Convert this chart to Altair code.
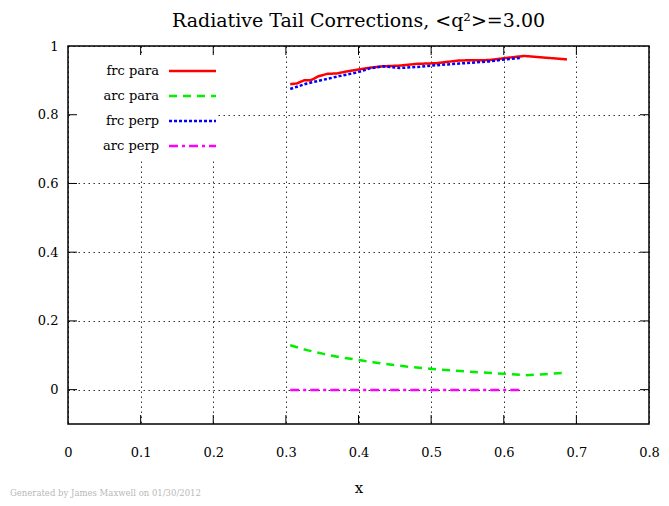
import altair as alt
import pandas as pd

# ---- data ----
frc_para_x = [0.306, 0.315, 0.325, 0.334, 0.345, 0.357, 0.370, 0.384, 0.398, 0.416, 0.434, 0.457, 0.480, 0.507, 0.539, 0.580, 0.602, 0.628, 0.687]
frc_para_y = [0.889, 0.891, 0.900, 0.900, 0.912, 0.919, 0.920, 0.926, 0.931, 0.937, 0.941, 0.943, 0.948, 0.950, 0.958, 0.959, 0.965, 0.971, 0.961]

arc_para_x = [0.306, 0.329, 0.352, 0.375, 0.398, 0.420, 0.443, 0.466, 0.498, 0.534, 0.571, 0.602, 0.630, 0.657, 0.684]
arc_para_y = [0.129, 0.115, 0.104, 0.094, 0.087, 0.080, 0.073, 0.067, 0.061, 0.055, 0.050, 0.046, 0.042, 0.045, 0.049]

frc_perp_x = [0.306, 0.329, 0.352, 0.375, 0.398, 0.416, 0.434, 0.457, 0.480, 0.507, 0.539, 0.580, 0.602, 0.625]
frc_perp_y = [0.875, 0.891, 0.902, 0.913, 0.923, 0.935, 0.941, 0.936, 0.939, 0.944, 0.949, 0.955, 0.961, 0.966]

arc_perp_x = [0.306, 0.400, 0.500, 0.624]
arc_perp_y = [-0.001, -0.001, -0.001, -0.001]

series_names = ["frc para", "arc para", "frc perp", "arc perp"]
series_colors = ["#ff0000", "#00ee00", "#0000ff", "#ff00ff"]
series_dashes = [[1, 0], [8, 6], [3, 2], [9, 4, 3, 4]]

x_ticks = [0, 0.1, 0.2, 0.3, 0.4, 0.5, 0.6, 0.7, 0.8]
y_ticks = [0, 0.2, 0.4, 0.6, 0.8, 1.0]
x_inner = [0.1, 0.2, 0.3, 0.4, 0.5, 0.6, 0.7]
y_inner = [0, 0.2, 0.4, 0.6, 0.8]

title_text = "Radiative Tail Corrections, <q\u00b2>=3.00"
footer_text = "Generated by James Maxwell on 01/30/2012"

W, H = 581, 378
FONT = "DejaVu Serif"
TL = 9

xs = [frc_para_x, arc_para_x, frc_perp_x, arc_perp_x]
ys = [frc_para_y, arc_para_y, frc_perp_y, arc_perp_y]

rows = []
for name, xv, yv in zip(series_names, xs, ys):
    for i, (a, b) in enumerate(zip(xv, yv)):
        rows.append({"series": name, "x": a, "y": b, "order": i})
df = pd.DataFrame(rows)

xscale = alt.Scale(domain=[0, 0.8], nice=False, zero=False)
yscale = alt.Scale(domain=[-0.1, 1.0], nice=False, zero=False)

xaxis = alt.Axis(values=x_ticks, format=".1~f", grid=True, ticks=False, domain=False,
                 labelPadding=22, title="x", titlePadding=21, labelFlush=False)
yaxis = alt.Axis(values=y_ticks, format=".1~f", grid=True, ticks=False, domain=False,
                 labelPadding=10, title=None)

base = alt.Chart(df)

axes_layer = base.mark_point(opacity=0).encode(
    x=alt.X("x:Q", scale=xscale, axis=xaxis),
    y=alt.Y("y:Q", scale=yscale, axis=yaxis),
)

layers = [axes_layer]

one = pd.DataFrame({"a": [0]})
# white legend background box (hides the grid behind the key)
layers.append(alt.Chart(one).mark_rect(color="white").encode(
    x=alt.value(3), x2=alt.value(150), y=alt.value(10), y2=alt.value(112)))

for k, name in enumerate(series_names):
    layers.append(
        base.transform_filter(alt.datum.series == name).mark_line(
            color=series_colors[k], strokeDash=series_dashes[k], strokeWidth=2.5, clip=True
        ).encode(
            x=alt.X("x:Q", scale=xscale),
            y=alt.Y("y:Q", scale=yscale),
            order="order:Q",
        )
    )
    ly = 25 + 25 * k
    layers.append(alt.Chart(one).mark_text(align="right", baseline="middle", font=FONT,
                                           fontSize=13, color="black").encode(
        x=alt.value(91), y=alt.value(ly), text=alt.value(name)))
    layers.append(alt.Chart(one).mark_rule(color=series_colors[k], strokeDash=series_dashes[k],
                                           strokeWidth=2.5).encode(
        x=alt.value(101), x2=alt.value(148), y=alt.value(ly)))

# inward ticks on all four sides
xt = pd.DataFrame({"v": x_inner})
yt = pd.DataFrame({"v": y_inner})
layers.append(alt.Chart(xt).mark_rule(color="black", strokeWidth=1).encode(
    x=alt.X("v:Q", scale=xscale), y=alt.value(H), y2=alt.value(H - TL)))
layers.append(alt.Chart(xt).mark_rule(color="black", strokeWidth=1).encode(
    x=alt.X("v:Q", scale=xscale), y=alt.value(0), y2=alt.value(TL)))
layers.append(alt.Chart(yt).mark_rule(color="black", strokeWidth=1).encode(
    y=alt.Y("v:Q", scale=yscale), x=alt.value(0), x2=alt.value(TL)))
layers.append(alt.Chart(yt).mark_rule(color="black", strokeWidth=1).encode(
    y=alt.Y("v:Q", scale=yscale), x=alt.value(W), x2=alt.value(W - TL)))

# footer
layers.append(alt.Chart(one).mark_text(align="left", baseline="middle", font=FONT,
                                       fontSize=8.5, color="#b8b8b8").encode(
    x=alt.value(-58), y=alt.value(447), text=alt.value(footer_text)))

chart = alt.layer(*layers).properties(
    width=W, height=H,
    title=alt.TitleParams(title_text, font=FONT, fontSize=19, fontWeight="normal",
                          color="black", anchor="middle", offset=9),
    autosize=alt.AutoSizeParams(type="none"),
    padding={"left": 60, "top": 38, "right": 12, "bottom": 74},
).configure_view(
    stroke="black", strokeWidth=1.5
).configure_axis(
    labelFont=FONT, labelFontSize=13, labelColor="black",
    titleFont=FONT, titleFontSize=15, titleFontWeight="normal", titleColor="black",
    gridColor="black", gridDash=[1.5, 3.5], gridWidth=1, gridOpacity=0.8,
)

chart.save("out.html", embed_options={"renderer": "svg", "actions": False})
